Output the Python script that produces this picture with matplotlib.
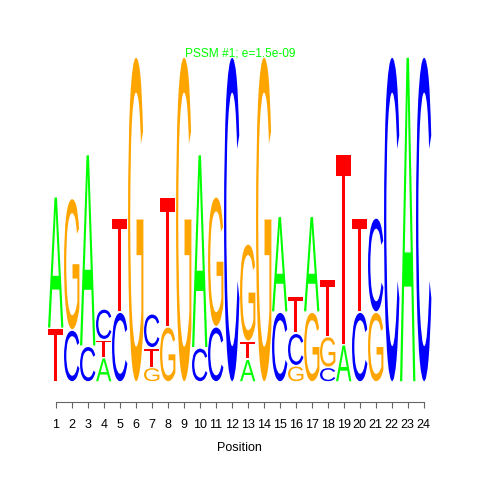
import numpy as np
import matplotlib.pyplot as plt
from matplotlib.textpath import TextPath
from matplotlib.patches import PathPatch
from matplotlib.font_manager import FontProperties
from matplotlib.transforms import Affine2D

# letters of each column, bottom to top, with heights in bits
stacks = ["TA", "CG", "CA", "ATC", "CT", "G", "GTC", "GT", "G", "CA", "CG", "C",
          "ATG", "G", "CA", "GCT", "GA", "CGT", "AT", "CT", "GC", "C", "A", "C"]
heights = [[0.33, 0.81], [0.32, 0.81], [0.22, 1.18], [0.15, 0.11, 0.19],
           [0.43, 0.58], [2.0], [0.09, 0.12, 0.21], [0.34, 0.80], [2.0],
           [0.21, 1.19], [0.34, 0.80], [2.0], [0.14, 0.11, 0.60], [2.0],
           [0.43, 0.59], [0.10, 0.20, 0.23], [0.43, 0.59], [0.09, 0.19, 0.35],
           [0.23, 1.17], [0.43, 0.58], [0.43, 0.58], [2.0], [2.0], [2.0]]
positions = np.arange(1, 25)

colors = {"A": "#00ff00", "C": "#0000ff", "G": "#ffa500", "T": "#ff0000"}
fp = FontProperties(family="Liberation Sans", weight="normal")

fig = plt.figure(figsize=(4.8, 4.8), dpi=100)
ax = fig.add_axes([0.0994, 0.2042, 0.8, 0.677])


def draw_letter(ax, letter, x, y, w, h):
    tp = TextPath((0, 0), letter, size=1, prop=fp)
    ext = tp.get_extents()
    tr = (Affine2D().translate(-ext.x0, -ext.y0)
          .scale(w / ext.width, h / ext.height)
          .translate(x, y))
    path = tr.transform_path(tp)
    ax.add_patch(PathPatch(path, facecolor=colors[letter], edgecolor="none"))


for pos, letters, hs in zip(positions, stacks, heights):
    bottom = 0.0
    for letter, h in zip(letters, hs):
        draw_letter(ax, letter, pos - 0.48, bottom + 0.005, 0.96, h - 0.01)
        bottom += h

ax.set_xlim(0.5, 24.5)
ax.set_ylim(0, 2)
for s in ["top", "right", "left"]:
    ax.spines[s].set_visible(False)
ax.spines["bottom"].set_position(("outward", 14.4))
ax.spines["bottom"].set_bounds(1, 24)
ax.spines["bottom"].set_color("#666666")
ax.set_yticks([])
ax.set_xticks(positions)
ax.set_xticklabels([str(p) for p in positions], fontsize=9, family="Liberation Sans")
ax.tick_params(axis="x", length=4.3, color="#666666", pad=8)
ax.set_xlabel("Position", fontsize=9, family="Liberation Sans", labelpad=8)

fig.text(0.5, 0.882, "PSSM #1; e=1.5e-09", color="#00ff00", ha="center",
         fontsize=8.6, family="Liberation Sans")

fig.savefig("out.png", dpi=100)
